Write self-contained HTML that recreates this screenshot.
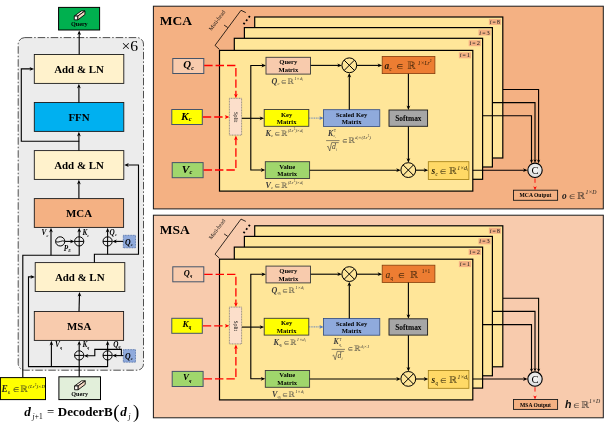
<!DOCTYPE html><html><head><meta charset="utf-8"><title>DecoderB</title>
<style>html,body{margin:0;padding:0;background:#fff;overflow:hidden}svg{display:block}svg text{font-family:"Liberation Serif","DejaVu Serif",serif}</style></head><body>
<svg width="604" height="426" viewBox="0 0 604 426">
<defs><filter id="soft" x="0" y="0" width="604" height="426" filterUnits="userSpaceOnUse"><feGaussianBlur stdDeviation="0.32"/></filter><radialGradient id="cg" cx="50%" cy="45%" r="60%"><stop offset="0" stop-color="#f7f7f7"/><stop offset="1" stop-color="#d9d9d9"/></radialGradient></defs>
<rect width="604" height="426" fill="#fff"/>
<g filter="url(#soft)">
<rect x="18.2" y="37.6" width="125.3" height="332.6" rx="6.5" ry="6.5" fill="#ececec" stroke="#262626" stroke-width="0.8" stroke-dasharray="7.5 2 1.5 2"/>
<text x="129.70" y="51.20" font-size="15.6" font-weight="normal" font-style="normal" text-anchor="middle" fill="#000" >×6</text>
<rect x="58.60" y="7.40" width="41.00" height="22.60" fill="#00b050" stroke="#000" stroke-width="1.0" />
<g transform="translate(79.60,15.30) scale(0.95)" stroke="#000" stroke-width="0.9" stroke-linejoin="round"><polygon points="-5.6,0.8 1.8,-4.6 5.6,-4.6 -1.8,0.8" fill="#fbeadc"/><polygon points="-5.6,0.8 -1.8,0.8 -1.8,4.8 -5.6,4.8" fill="#fffaf6"/><polygon points="-1.8,0.8 5.6,-4.6 5.6,-0.8 -1.8,4.8" fill="#f4d6c2"/></g>
<text x="79.30" y="26.30" font-size="6.2" font-weight="bold" font-style="normal" text-anchor="middle" fill="#000" >Query</text>
<rect x="34.30" y="54.50" width="89.50" height="28.90" fill="#fff2cc" stroke="#1a1a1a" stroke-width="0.9" />
<text x="79.00" y="73.00" font-size="10.9" font-weight="bold" font-style="normal" text-anchor="middle" fill="#000" >Add &amp; LN</text>
<rect x="34.30" y="102.50" width="89.50" height="28.90" fill="#00b0f0" stroke="#1a1a1a" stroke-width="0.9" />
<text x="79.00" y="121.00" font-size="10.9" font-weight="bold" font-style="normal" text-anchor="middle" fill="#000" >FFN</text>
<rect x="34.30" y="150.60" width="89.50" height="28.80" fill="#fff2cc" stroke="#1a1a1a" stroke-width="0.9" />
<text x="79.00" y="169.00" font-size="10.9" font-weight="bold" font-style="normal" text-anchor="middle" fill="#000" >Add &amp; LN</text>
<rect x="34.30" y="198.60" width="89.30" height="28.80" fill="#f4b183" stroke="#1a1a1a" stroke-width="0.9" />
<text x="79.00" y="217.00" font-size="10.9" font-weight="bold" font-style="normal" text-anchor="middle" fill="#000" >MCA</text>
<rect x="35.20" y="262.60" width="89.60" height="28.90" fill="#fff2cc" stroke="#1a1a1a" stroke-width="0.9" />
<text x="79.70" y="281.00" font-size="10.9" font-weight="bold" font-style="normal" text-anchor="middle" fill="#000" >Add &amp; LN</text>
<rect x="34.30" y="311.50" width="89.30" height="28.90" fill="#f8cbad" stroke="#1a1a1a" stroke-width="0.9" />
<text x="79.20" y="330.00" font-size="10.9" font-weight="bold" font-style="normal" text-anchor="middle" fill="#000" >MSA</text>
<path d="M79.20 54.50 L79.20 32.40" fill="none" stroke="#000" stroke-width="1.12" />
<polygon points="79.20,30.40 77.30,35.00 79.20,33.71 81.10,35.00" fill="#000"/>
<path d="M78.90 102.50 L78.90 85.80" fill="none" stroke="#000" stroke-width="1.12" />
<polygon points="78.90,83.80 77.00,88.40 78.90,87.11 80.80,88.40" fill="#000"/>
<path d="M78.90 150.60 L78.90 133.80" fill="none" stroke="#000" stroke-width="1.12" />
<polygon points="78.90,131.80 77.00,136.40 78.90,135.11 80.80,136.40" fill="#000"/>
<path d="M78.90 198.60 L78.90 181.80" fill="none" stroke="#000" stroke-width="1.12" />
<polygon points="78.90,179.80 77.00,184.40 78.90,183.11 80.80,184.40" fill="#000"/>
<path d="M79.00 311.50 L79.50 293.90" fill="none" stroke="#000" stroke-width="1.12" />
<polygon points="79.50,291.90 77.60,296.50 79.50,295.21 81.40,296.50" fill="#000"/>
<path d="M79.20 141.30 L21.30 141.30 L21.30 68.90 L32.10 68.90" fill="none" stroke="#000" stroke-width="1.12" />
<polygon points="34.10,68.90 29.50,67.00 30.79,68.90 29.50,70.80" fill="#000"/>
<path d="M94.40 262.60 L94.40 254.30 L138.50 254.30 L138.50 165.00 L126.20 165.00" fill="none" stroke="#000" stroke-width="1.12" />
<polygon points="124.20,165.00 128.80,163.10 127.51,165.00 128.80,166.90" fill="#000"/>
<path d="M107.60 254.30 L107.60 246.00" fill="none" stroke="#000" stroke-width="1.12" />
<circle cx="107.60" cy="241.40" r="4.6" fill="none" stroke="#000" stroke-width="1.0"/>
<path d="M103.00 241.40 L112.20 241.40" fill="none" stroke="#000" stroke-width="1.0" />
<path d="M107.60 236.80 L107.60 246.00" fill="none" stroke="#000" stroke-width="1.0" />
<path d="M107.60 236.80 L107.60 229.80" fill="none" stroke="#000" stroke-width="1.12" />
<polygon points="107.60,227.80 105.70,232.40 107.60,231.11 109.50,232.40" fill="#000"/>
<rect x="123.30" y="235.30" width="12.20" height="12.50" fill="#8faadc" stroke="#2f5597" stroke-width="0.7" stroke-dasharray="0.9 0.7"/>
<path d="M123.30 241.40 L114.20 241.40" fill="none" stroke="#000" stroke-width="1.12" />
<polygon points="112.20,241.40 116.80,239.50 115.51,241.40 116.80,243.30" fill="#000"/>
<path d="M22.80 377.50 L22.80 255.20 L79.20 255.20 L79.20 246.00" fill="none" stroke="#000" stroke-width="1.12" />
<path d="M51.00 255.20 L51.00 229.80" fill="none" stroke="#000" stroke-width="1.12" />
<polygon points="51.00,227.80 49.10,232.40 51.00,231.11 52.90,232.40" fill="#000"/>
<circle cx="79.20" cy="241.40" r="4.6" fill="none" stroke="#000" stroke-width="1.0"/>
<path d="M74.60 241.40 L83.80 241.40" fill="none" stroke="#000" stroke-width="1.0" />
<path d="M79.20 236.80 L79.20 246.00" fill="none" stroke="#000" stroke-width="1.0" />
<path d="M79.20 236.80 L79.20 229.80" fill="none" stroke="#000" stroke-width="1.12" />
<polygon points="79.20,227.80 77.30,232.40 79.20,231.11 81.10,232.40" fill="#000"/>
<circle cx="60.2" cy="241.4" r="4.6" fill="none" stroke="#000" stroke-width="1"/>
<path d="M55.7 241.7 Q58 242.5 60.2 241.5 T64.7 241.2" fill="none" stroke="#000" stroke-width="0.9"/>
<path d="M64.80 241.40 L72.60 241.40" fill="none" stroke="#000" stroke-width="1.12" />
<polygon points="74.60,241.40 70.00,239.50 71.29,241.40 70.00,243.30" fill="#000"/>
<path d="M79.20 377.00 L79.20 360.00" fill="none" stroke="#000" stroke-width="1.12" />
<path d="M107.60 366.60 L28.50 366.60 L28.50 276.90 L33.00 276.90" fill="none" stroke="#000" stroke-width="1.12" />
<polygon points="35.00,276.90 30.40,275.00 31.69,276.90 30.40,278.80" fill="#000"/>
<path d="M51.40 366.60 L51.40 342.80" fill="none" stroke="#000" stroke-width="1.12" />
<polygon points="51.40,340.80 49.50,345.40 51.40,344.11 53.30,345.40" fill="#000"/>
<circle cx="79.20" cy="355.40" r="4.6" fill="none" stroke="#000" stroke-width="1.0"/>
<path d="M74.60 355.40 L83.80 355.40" fill="none" stroke="#000" stroke-width="1.0" />
<path d="M79.20 350.80 L79.20 360.00" fill="none" stroke="#000" stroke-width="1.0" />
<path d="M79.20 350.80 L79.20 342.80" fill="none" stroke="#000" stroke-width="1.12" />
<polygon points="79.20,340.80 77.30,345.40 79.20,344.11 81.10,345.40" fill="#000"/>
<path d="M107.60 367.10 L107.60 360.00" fill="none" stroke="#000" stroke-width="1.12" />
<circle cx="107.60" cy="355.40" r="4.6" fill="none" stroke="#000" stroke-width="1.0"/>
<path d="M103.00 355.40 L112.20 355.40" fill="none" stroke="#000" stroke-width="1.0" />
<path d="M107.60 350.80 L107.60 360.00" fill="none" stroke="#000" stroke-width="1.0" />
<path d="M107.60 350.80 L107.60 342.80" fill="none" stroke="#000" stroke-width="1.12" />
<polygon points="107.60,340.80 105.70,345.40 107.60,344.11 109.50,345.40" fill="#000"/>
<rect x="123.30" y="349.60" width="12.20" height="12.60" fill="#8faadc" stroke="#2f5597" stroke-width="0.7" stroke-dasharray="0.9 0.7"/>
<path d="M123.30 355.60 L114.20 355.60" fill="none" stroke="#000" stroke-width="1.12" />
<polygon points="112.20,355.60 116.80,353.70 115.51,355.60 116.80,357.50" fill="#000"/>
<path d="M121.40 355.60 L121.40 349.40 L94.80 349.40 L94.80 355.80 L85.80 355.80" fill="none" stroke="#000" stroke-width="1.12" />
<polygon points="83.80,355.80 88.40,353.90 87.11,355.80 88.40,357.70" fill="#000"/>
<rect x="0.40" y="377.60" width="45.10" height="22.00" fill="#ffff00" stroke="#000" stroke-width="1.0" />
<text x="1.40" y="392.20" fill="#222" text-anchor="start"><tspan font-size="9.4" font-style="italic" font-weight="bold" dx="0" dy="0.00">E</tspan><tspan font-size="5.0"  dx="0.1" dy="1.90">6</tspan><tspan font-size="8.0" fill-opacity="0.8" font-family="'DejaVu Math TeX Gyre','DejaVu Serif',serif" dx="2.4" dy="-1.90">∈</tspan><tspan font-size="8.8" fill-opacity="0.8" font-family="'DejaVu Math TeX Gyre','DejaVu Serif',serif" dx="0.8" dy="0.00">ℝ</tspan><tspan font-size="5.0" font-style="italic" dx="0.0" dy="-4.00">(Lr</tspan><tspan font-size="3.4"  dx="0" dy="-2.00">2</tspan><tspan font-size="5.0" font-style="italic" dx="0" dy="2.00">)×D</tspan></text>
<rect x="58.90" y="376.80" width="41.60" height="22.80" fill="#e2efda" stroke="#000" stroke-width="1.0" />
<g transform="translate(79.90,385.20) scale(0.95)" stroke="#000" stroke-width="0.9" stroke-linejoin="round"><polygon points="-5.6,0.8 1.8,-4.6 5.6,-4.6 -1.8,0.8" fill="#fbeadc"/><polygon points="-5.6,0.8 -1.8,0.8 -1.8,4.8 -5.6,4.8" fill="#fffaf6"/><polygon points="-1.8,0.8 5.6,-4.6 5.6,-0.8 -1.8,4.8" fill="#f4d6c2"/></g>
<text x="79.60" y="396.40" font-size="6.2" font-weight="bold" font-style="normal" text-anchor="middle" fill="#000" >Query</text>
<text x="41.60" y="235.20" fill="#000" text-anchor="start"><tspan font-size="7.2" font-style="italic" font-weight="bold" dx="0" dy="0.00">V</tspan><tspan font-size="4.032000000000001" font-style="italic" font-weight="bold" dx="0.1" dy="1.60">c</tspan></text>
<text x="82.40" y="235.20" fill="#000" text-anchor="start"><tspan font-size="7.2" font-style="italic" font-weight="bold" dx="0" dy="0.00">K</tspan><tspan font-size="4.032000000000001" font-style="italic" font-weight="bold" dx="0.1" dy="1.60">c</tspan></text>
<text x="109.60" y="234.60" fill="#000" text-anchor="start"><tspan font-size="7.2" font-style="italic" font-weight="bold" dx="0" dy="0.00">Q</tspan><tspan font-size="4.032000000000001" font-style="italic" font-weight="bold" dx="0.1" dy="1.60">c</tspan></text>
<text x="63.80" y="250.60" fill="#000" text-anchor="start"><tspan font-size="7.2" font-style="italic" font-weight="bold" dx="0" dy="0.00">P</tspan><tspan font-size="4.032000000000001" font-style="italic" font-weight="bold" dx="0.1" dy="1.60">E</tspan></text>
<text x="55.00" y="347.40" fill="#000" text-anchor="start"><tspan font-size="7.2" font-style="italic" font-weight="bold" dx="0" dy="0.00">V</tspan><tspan font-size="4.032000000000001" font-style="italic" font-weight="bold" dx="0.1" dy="1.60">q</tspan></text>
<text x="82.40" y="347.40" fill="#000" text-anchor="start"><tspan font-size="7.2" font-style="italic" font-weight="bold" dx="0" dy="0.00">K</tspan><tspan font-size="4.032000000000001" font-style="italic" font-weight="bold" dx="0.1" dy="1.60">q</tspan></text>
<text x="113.20" y="346.60" fill="#000" text-anchor="start"><tspan font-size="7.2" font-style="italic" font-weight="bold" dx="0" dy="0.00">Q</tspan><tspan font-size="4.032000000000001" font-style="italic" font-weight="bold" dx="0.1" dy="1.60">q</tspan></text>
<text x="125.00" y="244.60" fill="#000" text-anchor="start"><tspan font-size="7.8" font-style="italic" font-weight="bold" dx="0" dy="0.00">Q</tspan><tspan font-size="4.368" font-style="italic" font-weight="bold" dx="0.1" dy="1.60">c</tspan></text>
<text x="125.00" y="358.80" fill="#000" text-anchor="start"><tspan font-size="7.8" font-style="italic" font-weight="bold" dx="0" dy="0.00">Q</tspan><tspan font-size="4.368" font-style="italic" font-weight="bold" dx="0.1" dy="1.60">c</tspan></text>
<text x="24.20" y="415.60" fill="#000" text-anchor="start"><tspan font-size="13.2" font-style="italic" font-weight="bold" dx="0" dy="0.00">d</tspan><tspan font-size="7.4" font-style="italic" dx="1.6" dy="3.60">j</tspan><tspan font-size="7.4"  dx="0.3" dy="0.00">+1</tspan><tspan font-size="12.8"  dx="4.4" dy="-3.60">=</tspan><tspan font-size="13.0" font-weight="bold" dx="3.6" dy="0.00">DecoderB</tspan><tspan font-size="19"  dx="0.6" dy="2.00">(</tspan><tspan font-size="13.2" font-style="italic" font-weight="bold" dx="0.6" dy="-2.00">d</tspan><tspan font-size="7.4" font-style="italic" dx="1.6" dy="3.60">j</tspan><tspan font-size="19"  dx="2.4" dy="-1.60">)</tspan></text>
<rect x="153.40" y="6.20" width="449.90" height="202.70" fill="#f4b183" stroke="#1a1a1a" stroke-width="1.0" />
<text x="159.80" y="25.00" font-size="13.5" font-weight="bold" font-style="normal" text-anchor="start" fill="#000" >MCA</text>
<rect x="254.70" y="17.00" width="248.10" height="141.00" fill="#ffe699" stroke="#000" stroke-width="1.2" />
<rect x="488.90" y="18.90" width="12.1" height="6.0" fill="#f4b183"/>
<text x="494.90" y="24.00" fill="#222" text-anchor="middle"><tspan font-size="6.4" font-style="italic" dx="0" dy="0.00">i</tspan><tspan font-size="5.8"  dx="1.0" dy="0.00">=</tspan><tspan font-size="6.4"  dx="1.0" dy="0.00">8</tspan></text>
<rect x="244.40" y="27.60" width="248.00" height="139.40" fill="#ffe699" stroke="#000" stroke-width="1.2" />
<rect x="478.50" y="29.50" width="12.1" height="6.0" fill="#f4b183"/>
<text x="484.50" y="34.60" fill="#222" text-anchor="middle"><tspan font-size="6.4" font-style="italic" dx="0" dy="0.00">i</tspan><tspan font-size="5.8"  dx="1.0" dy="0.00">=</tspan><tspan font-size="6.4"  dx="1.0" dy="0.00">3</tspan></text>
<rect x="234.30" y="38.30" width="248.30" height="141.00" fill="#ffe699" stroke="#000" stroke-width="1.2" />
<rect x="468.70" y="40.20" width="12.1" height="6.0" fill="#f4b183"/>
<text x="474.70" y="45.30" fill="#222" text-anchor="middle"><tspan font-size="6.4" font-style="italic" dx="0" dy="0.00">i</tspan><tspan font-size="5.8"  dx="1.0" dy="0.00">=</tspan><tspan font-size="6.4"  dx="1.0" dy="0.00">2</tspan></text>
<rect x="219.50" y="50.40" width="253.30" height="140.70" fill="#ffe699" stroke="#000" stroke-width="1.2" />
<rect x="458.90" y="52.30" width="12.1" height="6.0" fill="#f4b183"/>
<text x="464.90" y="57.40" fill="#222" text-anchor="middle"><tspan font-size="6.4" font-style="italic" dx="0" dy="0.00">i</tspan><tspan font-size="5.8"  dx="1.0" dy="0.00">=</tspan><tspan font-size="6.4"  dx="1.0" dy="0.00">1</tspan></text>
<path d="M219.40 49.40 L215.00 45.40 L241.00 10.30 L245.80 12.60" fill="none" stroke="#000" stroke-width="0.8" />
<path d="M227.70 27.50 L224.10 25.10" fill="none" stroke="#000" stroke-width="0.8" />
<text transform="translate(211.6,30.90) rotate(-53.5)" font-size="5.7" fill="#111">Muti-head</text>
<rect x="243.2" y="22.70" width="1.8" height="1.8" fill="#000" transform="rotate(35 244.1 23.60)"/>
<rect x="245.79999999999998" y="19.30" width="1.8" height="1.8" fill="#000" transform="rotate(35 246.7 20.20)"/>
<rect x="248.4" y="15.90" width="1.8" height="1.8" fill="#000" transform="rotate(35 249.3 16.80)"/>
<rect x="172.80" y="58.50" width="31.00" height="15.00" fill="#f8cbad" stroke="#44546a" stroke-width="1.0" />
<rect x="171.80" y="109.50" width="30.50" height="15.00" fill="#ffff00" stroke="#44546a" stroke-width="1.0" />
<rect x="172.20" y="162.60" width="30.90" height="15.10" fill="#a0d66c" stroke="#44546a" stroke-width="1.0" />
<text x="188.60" y="68.00" fill="#000" text-anchor="middle"><tspan font-size="10.8" font-style="italic" font-weight="bold" dx="0" dy="0.00">Q</tspan><tspan font-size="6.048000000000001" font-style="italic" font-weight="bold" dx="0.1" dy="1.70">c</tspan></text>
<text x="186.20" y="119.50" fill="#000" text-anchor="middle"><tspan font-size="11.4" font-style="italic" font-weight="bold" dx="0" dy="0.00">K</tspan><tspan font-size="6.384000000000001" font-style="italic" font-weight="bold" dx="0.1" dy="1.70">c</tspan></text>
<text x="187.00" y="172.50" fill="#000" text-anchor="middle"><tspan font-size="11.4" font-style="italic" font-weight="bold" dx="0" dy="0.00">V</tspan><tspan font-size="6.384000000000001" font-style="italic" font-weight="bold" dx="0.1" dy="1.70">c</tspan></text>
<path d="M204.20 65.50 L235.90 65.50 L235.90 96.30" fill="none" stroke="#ff0000" stroke-width="1.3" stroke-dasharray="8.4 3"/>
<polygon points="235.90,98.30 234.00,93.70 235.90,94.99 237.80,93.70" fill="#ff0000"/>
<path d="M202.80 117.00 L227.40 117.00" fill="none" stroke="#ff0000" stroke-width="1.3" stroke-dasharray="8.4 3"/>
<polygon points="229.40,117.00 224.80,115.10 226.09,117.00 224.80,118.90" fill="#ff0000"/>
<path d="M203.60 170.00 L235.90 170.00 L235.90 137.60" fill="none" stroke="#ff0000" stroke-width="1.3" stroke-dasharray="8.4 3"/>
<polygon points="235.90,135.60 234.00,140.20 235.90,138.91 237.80,140.20" fill="#ff0000"/>
<rect x="229.40" y="98.30" width="12.20" height="36.80" fill="#fcdfcb" stroke="#6a6a6a" stroke-width="0.7" stroke-dasharray="1 0.6"/>
 <text transform="translate(233.9,117.00) rotate(90)" font-size="5.6" text-anchor="middle" font-weight="normal" fill="#111">Split</text>
<path d="M242.00 118.30 L262.20 118.30" fill="none" stroke="#000" stroke-width="1.12" />
<polygon points="264.20,118.30 259.60,116.40 260.89,118.30 259.60,120.20" fill="#000"/>
<path d="M250.80 118.30 L250.80 65.50 L264.00 65.50" fill="none" stroke="#000" stroke-width="1.12" />
<polygon points="266.00,65.50 261.40,63.60 262.69,65.50 261.40,67.40" fill="#000"/>
<path d="M250.80 118.30 L250.80 170.00 L263.30 170.00" fill="none" stroke="#000" stroke-width="1.12" />
<polygon points="265.30,170.00 260.70,168.10 261.99,170.00 260.70,171.90" fill="#000"/>
<rect x="266.00" y="57.30" width="44.50" height="16.80" fill="#f8cbad" stroke="#3a3a3a" stroke-width="0.9" />
<rect x="264.20" y="109.50" width="44.60" height="16.80" fill="#ffff00" stroke="#3a3a3a" stroke-width="0.9" />
<rect x="265.30" y="161.70" width="44.30" height="16.80" fill="#a0d66c" stroke="#3a3a3a" stroke-width="0.9" />
<text x="288.30" y="64.20" font-size="6.6" font-weight="bold" font-style="normal" text-anchor="middle" fill="#000" >Query</text>
<text x="288.30" y="71.70" font-size="6.6" font-weight="bold" font-style="normal" text-anchor="middle" fill="#000" >Matrix</text>
<text x="286.60" y="116.50" font-size="6.6" font-weight="bold" font-style="normal" text-anchor="middle" fill="#000" >Key</text>
<text x="286.60" y="124.00" font-size="6.6" font-weight="bold" font-style="normal" text-anchor="middle" fill="#000" >Matrix</text>
<text x="287.20" y="168.60" font-size="6.6" font-weight="bold" font-style="normal" text-anchor="middle" fill="#000" >Value</text>
<text x="287.20" y="176.10" font-size="6.6" font-weight="bold" font-style="normal" text-anchor="middle" fill="#000" >Matrix</text>
<text x="271.60" y="83.80" fill="#3c3c3c" text-anchor="start"><tspan font-size="8" font-style="italic" font-weight="bold" dx="0" dy="0.00">Q</tspan><tspan font-size="4.4" font-style="italic" dx="0.1" dy="1.60">c</tspan><tspan font-size="6.8" fill-opacity="0.8" font-family="'DejaVu Math TeX Gyre','DejaVu Serif',serif" dx="1.6" dy="-1.60">∈</tspan><tspan font-size="7.4" fill-opacity="0.8" font-family="'DejaVu Math TeX Gyre','DejaVu Serif',serif" dx="0.9" dy="0.00">ℝ</tspan><tspan font-size="4.7" font-style="italic" dx="-0.3" dy="-3.60">1×d</tspan><tspan font-size="3.1" font-style="italic" dx="0" dy="0.80">i</tspan></text>
<text x="265.60" y="135.70" fill="#3c3c3c" text-anchor="start"><tspan font-size="8" font-style="italic" font-weight="bold" dx="0" dy="0.00">K</tspan><tspan font-size="4.4" font-style="italic" dx="0.1" dy="1.60">c</tspan><tspan font-size="6.8" fill-opacity="0.8" font-family="'DejaVu Math TeX Gyre','DejaVu Serif',serif" dx="1.6" dy="-1.60">∈</tspan><tspan font-size="7.4" fill-opacity="0.8" font-family="'DejaVu Math TeX Gyre','DejaVu Serif',serif" dx="0.9" dy="0.00">ℝ</tspan><tspan font-size="4.7" font-style="italic" dx="-0.3" dy="-3.60">(Lr</tspan><tspan font-size="3.1"  dx="0" dy="-1.80">2</tspan><tspan font-size="4.7" font-style="italic" dx="0" dy="1.80">)×d</tspan><tspan font-size="3.1" font-style="italic" dx="0" dy="0.80">i</tspan></text>
<text x="265.60" y="187.70" fill="#3c3c3c" text-anchor="start"><tspan font-size="8" font-style="italic" font-weight="bold" dx="0" dy="0.00">V</tspan><tspan font-size="4.4" font-style="italic" dx="0.1" dy="1.60">c</tspan><tspan font-size="6.8" fill-opacity="0.8" font-family="'DejaVu Math TeX Gyre','DejaVu Serif',serif" dx="1.6" dy="-1.60">∈</tspan><tspan font-size="7.4" fill-opacity="0.8" font-family="'DejaVu Math TeX Gyre','DejaVu Serif',serif" dx="0.9" dy="0.00">ℝ</tspan><tspan font-size="4.7" font-style="italic" dx="-0.3" dy="-3.60">(Lr</tspan><tspan font-size="3.1"  dx="0" dy="-1.80">2</tspan><tspan font-size="4.7" font-style="italic" dx="0" dy="1.80">)×d</tspan><tspan font-size="3.1" font-style="italic" dx="0" dy="0.80">i</tspan></text>
<path d="M309.00 118.10 L321.00 118.10" fill="none" stroke="#4472c4" stroke-width="0.9" stroke-dasharray="1 0.7"/>
<polygon points="323.40,118.10 319.40,116.30 320.52,118.10 319.40,119.90" fill="#4472c4"/>
<rect x="323.40" y="109.70" width="56.40" height="16.70" fill="#8faadc" stroke="#2f4a80" stroke-width="0.8" />
<text x="351.60" y="116.70" font-size="6.6" font-weight="bold" font-style="normal" text-anchor="middle" fill="#000" >Scaled Key</text>
<text x="351.60" y="124.30" font-size="6.6" font-weight="bold" font-style="normal" text-anchor="middle" fill="#000" >Matrix</text>
<text x="328.10" y="135.60" fill="#3c3c3c" text-anchor="start"><tspan font-size="7.6" font-style="italic" font-weight="bold" dx="0" dy="0.00">K</tspan><tspan font-size="3.8"  dx="0.6" dy="-3.60">T</tspan><tspan font-size="3.4" font-style="italic" dx="-2.6" dy="5.40">c</tspan><tspan font-size="2.6" font-style="italic" dx="0" dy="0.80">i</tspan></text>
<path d="M326.10 140.60 L339.50 140.60" fill="none" stroke="#3c3c3c" stroke-width="0.6" />
<text x="332.10" y="149.30" fill="#3c3c3c" text-anchor="start"><tspan font-size="7.6" font-style="italic" dx="0" dy="0.00">d</tspan><tspan font-size="3.6" font-style="italic" dx="0.1" dy="1.40">i</tspan></text>
<path d="M327.00 147.00 L328.10 146.20 L329.70 151.00 L331.70 142.60 L338.70 142.60" fill="none" stroke="#3c3c3c" stroke-width="0.6" />
<text x="341.90" y="142.50" fill="#3c3c3c" text-anchor="start"><tspan font-size="6.6" fill-opacity="0.8" font-family="'DejaVu Math TeX Gyre','DejaVu Serif',serif" dx="0" dy="0.00">∈</tspan><tspan font-size="7.6" fill-opacity="0.8" font-family="'DejaVu Math TeX Gyre','DejaVu Serif',serif" dx="0.8" dy="0.00">ℝ</tspan><tspan font-size="4.8" font-style="italic" dx="-0.2" dy="-3.60">d</tspan><tspan font-size="3.0" font-style="italic" dx="0" dy="0.80">i</tspan><tspan font-size="4.8" font-style="italic" dx="0" dy="-0.80">×(Lr</tspan><tspan font-size="3.0"  dx="0" dy="-1.80">2</tspan><tspan font-size="4.8" font-style="italic" dx="0" dy="1.80">)</tspan></text>
<path d="M310.70 65.40 L339.90 65.40" fill="none" stroke="#000" stroke-width="1.12" />
<polygon points="341.90,65.40 337.30,63.50 338.59,65.40 337.30,67.30" fill="#000"/>
<circle cx="349.30" cy="65.30" r="7.4" fill="none" stroke="#000" stroke-width="1.0"/>
<path d="M344.07 60.07 L354.53 70.53" fill="none" stroke="#000" stroke-width="1.0" />
<path d="M344.07 70.53 L354.53 60.07" fill="none" stroke="#000" stroke-width="1.0" />
<path d="M349.30 109.70 L349.30 74.90" fill="none" stroke="#000" stroke-width="1.12" />
<polygon points="349.30,72.90 347.40,77.50 349.30,76.21 351.20,77.50" fill="#000"/>
<path d="M356.80 65.40 L380.20 65.40" fill="none" stroke="#000" stroke-width="1.12" />
<polygon points="382.20,65.40 377.60,63.50 378.89,65.40 377.60,67.30" fill="#000"/>
<rect x="382.20" y="56.40" width="52.70" height="17.20" fill="#ed7d31" stroke="#843c0c" stroke-width="0.8" />
<text x="384.40" y="68.90" fill="#2a1a08" text-anchor="start"><tspan font-size="9.4" font-style="italic" font-weight="bold" dx="0" dy="0.00">a</tspan><tspan font-size="5.2" font-style="italic" dx="0.4" dy="1.90">c</tspan><tspan font-size="8.6" fill-opacity="0.8" font-family="'DejaVu Math TeX Gyre','DejaVu Serif',serif" dx="4.6" dy="-1.90">∈</tspan><tspan font-size="10.0" fill-opacity="0.8" font-family="'DejaVu Math TeX Gyre','DejaVu Serif',serif" dx="3.4" dy="0.00">ℝ</tspan><tspan font-size="5.6" font-style="italic" dx="1.6" dy="-4.40">1×Lr</tspan><tspan font-size="3.6"  dx="0" dy="-2.20">2</tspan></text>
<path d="M408.40 73.80 L408.40 108.00" fill="none" stroke="#000" stroke-width="1.12" />
<polygon points="408.40,110.00 406.50,105.40 408.40,106.69 410.30,105.40" fill="#000"/>
<rect x="389.00" y="110.00" width="38.60" height="16.30" fill="#a6a6a6" stroke="#1a1a1a" stroke-width="0.9" />
<text x="408.40" y="120.70" font-size="7.4" font-weight="bold" font-style="normal" text-anchor="middle" fill="#000" >Softmax</text>
<path d="M408.40 126.50 L408.40 160.70" fill="none" stroke="#000" stroke-width="1.12" />
<polygon points="408.40,162.70 406.50,158.10 408.40,159.39 410.30,158.10" fill="#000"/>
<circle cx="408.30" cy="170.10" r="7.4" fill="none" stroke="#000" stroke-width="1.0"/>
<path d="M403.07 164.87 L413.53 175.33" fill="none" stroke="#000" stroke-width="1.0" />
<path d="M403.07 175.33 L413.53 164.87" fill="none" stroke="#000" stroke-width="1.0" />
<path d="M309.70 170.20 L398.80 170.20" fill="none" stroke="#000" stroke-width="1.12" />
<polygon points="400.80,170.20 396.20,168.30 397.49,170.20 396.20,172.10" fill="#000"/>
<path d="M415.80 170.20 L426.30 170.20" fill="none" stroke="#000" stroke-width="1.12" />
<polygon points="428.30,170.20 423.70,168.30 424.99,170.20 423.70,172.10" fill="#000"/>
<rect x="428.30" y="161.70" width="40.60" height="17.80" fill="#ffd966" stroke="#a07c10" stroke-width="0.8" />
<text x="431.40" y="174.40" fill="#2a2208" text-anchor="start"><tspan font-size="9.6" font-style="italic" font-weight="bold" dx="0" dy="0.00">s</tspan><tspan font-size="5.2" font-style="italic" dx="0.3" dy="1.90">c</tspan><tspan font-size="8.2" fill-opacity="0.8" font-family="'DejaVu Math TeX Gyre','DejaVu Serif',serif" dx="2.0" dy="-1.90">∈</tspan><tspan font-size="9.4" fill-opacity="0.8" font-family="'DejaVu Math TeX Gyre','DejaVu Serif',serif" dx="1.8" dy="0.00">ℝ</tspan><tspan font-size="5.8" font-style="italic" dx="0.2" dy="-4.40">1×d</tspan><tspan font-size="3.6" font-style="italic" dx="0" dy="1.20">i</tspan></text>
<path d="M472.80 170.20 L525.60 170.20" fill="none" stroke="#000" stroke-width="1.12" />
<polygon points="527.60,170.20 523.00,168.30 524.29,170.20 523.00,172.10" fill="#000"/>
<path d="M482.80 115.80 L531.50 115.80 L531.50 161.40" fill="none" stroke="#000" stroke-width="1.12" />
<polygon points="531.50,163.40 529.90,159.60 531.50,160.66 533.10,159.60" fill="#000"/>
<path d="M492.60 102.60 L535.00 102.60 L535.00 161.00" fill="none" stroke="#000" stroke-width="1.12" />
<polygon points="535.00,163.00 533.40,159.20 535.00,160.26 536.60,159.20" fill="#000"/>
<path d="M503.00 89.50 L538.60 89.50 L538.60 161.40" fill="none" stroke="#000" stroke-width="1.12" />
<polygon points="538.60,163.40 537.00,159.60 538.60,160.66 540.20,159.60" fill="#000"/>
<circle cx="535" cy="170.30" r="7.2" fill="url(#cg)" stroke="#000" stroke-width="1.1"/>
<text x="535.10" y="173.80" font-size="10.6" font-weight="normal" font-style="normal" text-anchor="middle" fill="#000" >C</text>
<path d="M535.00 178.40 L535.00 182.80" fill="none" stroke="#ff0000" stroke-width="0.9" />
<polygon points="535.00,190.20 533.30,186.20 535.00,187.32 536.70,186.20" fill="#ff0000"/>
<rect x="513.50" y="190.20" width="44.10" height="10.10" fill="#f4b183" stroke="#1a1a1a" stroke-width="0.9" />
<text x="535.50" y="197.40" font-size="5.6" font-weight="bold" font-style="normal" text-anchor="middle" fill="#000" >MCA Output</text>
<text x="562.00" y="198.80" fill="#1a1a1a" text-anchor="start"><tspan font-size="9.4" font-style="italic" font-weight="bold" dx="0" dy="0.00">o</tspan><tspan font-size="7.8" fill-opacity="0.8" font-family="'DejaVu Math TeX Gyre','DejaVu Serif',serif" dx="2.0" dy="0.00">∈</tspan><tspan font-size="9.4" fill-opacity="0.8" font-family="'DejaVu Math TeX Gyre','DejaVu Serif',serif" dx="1.6" dy="0.00">ℝ</tspan><tspan font-size="5.8" font-style="italic" dx="0.0" dy="-4.60">1×D</tspan></text>
<rect x="153.40" y="215.20" width="449.90" height="202.60" fill="#f8cbad" stroke="#1a1a1a" stroke-width="1.0" />
<text x="159.80" y="233.80" font-size="13.5" font-weight="bold" font-style="normal" text-anchor="start" fill="#000" >MSA</text>
<rect x="254.70" y="225.80" width="248.10" height="141.00" fill="#ffe699" stroke="#000" stroke-width="1.2" />
<rect x="488.90" y="227.70" width="12.1" height="6.0" fill="#f4b183"/>
<text x="494.90" y="232.80" fill="#222" text-anchor="middle"><tspan font-size="6.4" font-style="italic" dx="0" dy="0.00">i</tspan><tspan font-size="5.8"  dx="1.0" dy="0.00">=</tspan><tspan font-size="6.4"  dx="1.0" dy="0.00">8</tspan></text>
<rect x="244.40" y="236.40" width="248.00" height="139.40" fill="#ffe699" stroke="#000" stroke-width="1.2" />
<rect x="478.50" y="238.30" width="12.1" height="6.0" fill="#f4b183"/>
<text x="484.50" y="243.40" fill="#222" text-anchor="middle"><tspan font-size="6.4" font-style="italic" dx="0" dy="0.00">i</tspan><tspan font-size="5.8"  dx="1.0" dy="0.00">=</tspan><tspan font-size="6.4"  dx="1.0" dy="0.00">3</tspan></text>
<rect x="234.30" y="247.10" width="248.30" height="141.00" fill="#ffe699" stroke="#000" stroke-width="1.2" />
<rect x="468.70" y="249.00" width="12.1" height="6.0" fill="#f4b183"/>
<text x="474.70" y="254.10" fill="#222" text-anchor="middle"><tspan font-size="6.4" font-style="italic" dx="0" dy="0.00">i</tspan><tspan font-size="5.8"  dx="1.0" dy="0.00">=</tspan><tspan font-size="6.4"  dx="1.0" dy="0.00">2</tspan></text>
<rect x="219.50" y="259.20" width="253.30" height="140.70" fill="#ffe699" stroke="#000" stroke-width="1.2" />
<rect x="458.90" y="261.10" width="12.1" height="6.0" fill="#f4b183"/>
<text x="464.90" y="266.20" fill="#222" text-anchor="middle"><tspan font-size="6.4" font-style="italic" dx="0" dy="0.00">i</tspan><tspan font-size="5.8"  dx="1.0" dy="0.00">=</tspan><tspan font-size="6.4"  dx="1.0" dy="0.00">1</tspan></text>
<path d="M219.40 258.20 L215.00 254.20 L241.00 219.10 L245.80 221.40" fill="none" stroke="#000" stroke-width="0.8" />
<path d="M227.70 236.30 L224.10 233.90" fill="none" stroke="#000" stroke-width="0.8" />
<text transform="translate(211.6,239.70) rotate(-53.5)" font-size="5.7" fill="#111">Muti-head</text>
<rect x="243.2" y="231.50" width="1.8" height="1.8" fill="#000" transform="rotate(35 244.1 232.40)"/>
<rect x="245.79999999999998" y="228.10" width="1.8" height="1.8" fill="#000" transform="rotate(35 246.7 229.00)"/>
<rect x="248.4" y="224.70" width="1.8" height="1.8" fill="#000" transform="rotate(35 249.3 225.60)"/>
<rect x="172.80" y="266.80" width="31.00" height="15.00" fill="#f8cbad" stroke="#44546a" stroke-width="1.0" />
<rect x="171.80" y="318.30" width="30.50" height="15.00" fill="#ffff00" stroke="#44546a" stroke-width="1.0" />
<rect x="172.20" y="371.40" width="30.90" height="15.10" fill="#a0d66c" stroke="#44546a" stroke-width="1.0" />
<text x="188.00" y="275.60" fill="#000" text-anchor="middle"><tspan font-size="8.3" font-style="italic" font-weight="bold" dx="0" dy="0.00">Q</tspan><tspan font-size="4.648000000000001" font-style="italic" font-weight="bold" dx="0.1" dy="1.70">q</tspan></text>
<text x="186.80" y="327.20" fill="#000" text-anchor="middle"><tspan font-size="9.2" font-style="italic" font-weight="bold" dx="0" dy="0.00">K</tspan><tspan font-size="5.152" font-style="italic" font-weight="bold" dx="0.1" dy="1.70">q</tspan></text>
<text x="187.20" y="380.20" fill="#000" text-anchor="middle"><tspan font-size="8.8" font-style="italic" font-weight="bold" dx="0" dy="0.00">V</tspan><tspan font-size="4.928000000000001" font-style="italic" font-weight="bold" dx="0.1" dy="1.70">q</tspan></text>
<path d="M204.20 274.30 L235.90 274.30 L235.90 305.10" fill="none" stroke="#ff0000" stroke-width="1.3" stroke-dasharray="8.4 3"/>
<polygon points="235.90,307.10 234.00,302.50 235.90,303.79 237.80,302.50" fill="#ff0000"/>
<path d="M202.80 325.80 L227.40 325.80" fill="none" stroke="#ff0000" stroke-width="1.3" stroke-dasharray="8.4 3"/>
<polygon points="229.40,325.80 224.80,323.90 226.09,325.80 224.80,327.70" fill="#ff0000"/>
<path d="M203.60 378.80 L235.90 378.80 L235.90 346.40" fill="none" stroke="#ff0000" stroke-width="1.3" stroke-dasharray="8.4 3"/>
<polygon points="235.90,344.40 234.00,349.00 235.90,347.71 237.80,349.00" fill="#ff0000"/>
<rect x="229.40" y="307.10" width="12.20" height="36.80" fill="#fcdfcb" stroke="#6a6a6a" stroke-width="0.7" stroke-dasharray="1 0.6"/>
 <text transform="translate(233.9,325.80) rotate(90)" font-size="5.6" text-anchor="middle" font-weight="normal" fill="#111">Split</text>
<path d="M242.00 327.10 L262.20 327.10" fill="none" stroke="#000" stroke-width="1.12" />
<polygon points="264.20,327.10 259.60,325.20 260.89,327.10 259.60,329.00" fill="#000"/>
<path d="M250.80 327.10 L250.80 274.30 L264.00 274.30" fill="none" stroke="#000" stroke-width="1.12" />
<polygon points="266.00,274.30 261.40,272.40 262.69,274.30 261.40,276.20" fill="#000"/>
<path d="M250.80 327.10 L250.80 378.80 L263.30 378.80" fill="none" stroke="#000" stroke-width="1.12" />
<polygon points="265.30,378.80 260.70,376.90 261.99,378.80 260.70,380.70" fill="#000"/>
<rect x="266.00" y="266.10" width="44.50" height="16.80" fill="#f8cbad" stroke="#3a3a3a" stroke-width="0.9" />
<rect x="264.20" y="318.30" width="44.60" height="16.80" fill="#ffff00" stroke="#3a3a3a" stroke-width="0.9" />
<rect x="265.30" y="370.50" width="44.30" height="16.80" fill="#a0d66c" stroke="#3a3a3a" stroke-width="0.9" />
<text x="288.30" y="273.00" font-size="6.6" font-weight="bold" font-style="normal" text-anchor="middle" fill="#000" >Query</text>
<text x="288.30" y="280.50" font-size="6.6" font-weight="bold" font-style="normal" text-anchor="middle" fill="#000" >Matrix</text>
<text x="286.60" y="325.30" font-size="6.6" font-weight="bold" font-style="normal" text-anchor="middle" fill="#000" >Key</text>
<text x="286.60" y="332.80" font-size="6.6" font-weight="bold" font-style="normal" text-anchor="middle" fill="#000" >Matrix</text>
<text x="287.20" y="377.40" font-size="6.6" font-weight="bold" font-style="normal" text-anchor="middle" fill="#000" >Value</text>
<text x="287.20" y="384.90" font-size="6.6" font-weight="bold" font-style="normal" text-anchor="middle" fill="#000" >Matrix</text>
<text x="271.60" y="292.60" fill="#3c3c3c" text-anchor="start"><tspan font-size="8" font-style="italic" font-weight="bold" dx="0" dy="0.00">Q</tspan><tspan font-size="4.4" font-style="italic" dx="0.1" dy="1.60">q</tspan><tspan font-size="3.2" font-style="italic" dx="0" dy="1.00">i</tspan><tspan font-size="6.8" fill-opacity="0.8" font-family="'DejaVu Math TeX Gyre','DejaVu Serif',serif" dx="1.6" dy="-2.60">∈</tspan><tspan font-size="7.4" fill-opacity="0.8" font-family="'DejaVu Math TeX Gyre','DejaVu Serif',serif" dx="0.9" dy="0.00">ℝ</tspan><tspan font-size="4.7" font-style="italic" dx="-0.3" dy="-3.60">1×d</tspan><tspan font-size="3.1" font-style="italic" dx="0" dy="0.80">i</tspan></text>
<text x="273.60" y="344.60" fill="#3c3c3c" text-anchor="start"><tspan font-size="8" font-style="italic" font-weight="bold" dx="0" dy="0.00">K</tspan><tspan font-size="4.4" font-style="italic" dx="0.1" dy="1.60">q</tspan><tspan font-size="3.2" font-style="italic" dx="0" dy="1.00">i</tspan><tspan font-size="6.8" fill-opacity="0.8" font-family="'DejaVu Math TeX Gyre','DejaVu Serif',serif" dx="1.6" dy="-2.60">∈</tspan><tspan font-size="7.4" fill-opacity="0.8" font-family="'DejaVu Math TeX Gyre','DejaVu Serif',serif" dx="0.9" dy="0.00">ℝ</tspan><tspan font-size="4.7" font-style="italic" dx="-0.3" dy="-3.60">1×d</tspan><tspan font-size="3.1" font-style="italic" dx="0" dy="0.80">i</tspan></text>
<text x="272.00" y="396.60" fill="#3c3c3c" text-anchor="start"><tspan font-size="8" font-style="italic" font-weight="bold" dx="0" dy="0.00">V</tspan><tspan font-size="4.4" font-style="italic" dx="0.1" dy="1.60">q</tspan><tspan font-size="3.2" font-style="italic" dx="0" dy="1.00">i</tspan><tspan font-size="6.8" fill-opacity="0.8" font-family="'DejaVu Math TeX Gyre','DejaVu Serif',serif" dx="1.6" dy="-2.60">∈</tspan><tspan font-size="7.4" fill-opacity="0.8" font-family="'DejaVu Math TeX Gyre','DejaVu Serif',serif" dx="0.9" dy="0.00">ℝ</tspan><tspan font-size="4.7" font-style="italic" dx="-0.3" dy="-3.60">1×d</tspan><tspan font-size="3.1" font-style="italic" dx="0" dy="0.80">i</tspan></text>
<path d="M309.00 326.90 L321.00 326.90" fill="none" stroke="#4472c4" stroke-width="0.9" stroke-dasharray="1 0.7"/>
<polygon points="323.40,326.90 319.40,325.10 320.52,326.90 319.40,328.70" fill="#4472c4"/>
<rect x="323.40" y="318.50" width="56.40" height="16.70" fill="#8faadc" stroke="#2f4a80" stroke-width="0.8" />
<text x="351.60" y="325.50" font-size="6.6" font-weight="bold" font-style="normal" text-anchor="middle" fill="#000" >Scaled Key</text>
<text x="351.60" y="333.10" font-size="6.6" font-weight="bold" font-style="normal" text-anchor="middle" fill="#000" >Matrix</text>
<text x="333.60" y="344.40" fill="#3c3c3c" text-anchor="start"><tspan font-size="7.6" font-style="italic" font-weight="bold" dx="0" dy="0.00">K</tspan><tspan font-size="3.8"  dx="0.6" dy="-3.60">T</tspan><tspan font-size="3.4" font-style="italic" dx="-2.6" dy="5.40">q</tspan><tspan font-size="2.6" font-style="italic" dx="0" dy="0.80">i</tspan></text>
<path d="M331.60 349.40 L345.00 349.40" fill="none" stroke="#3c3c3c" stroke-width="0.6" />
<text x="337.60" y="358.10" fill="#3c3c3c" text-anchor="start"><tspan font-size="7.6" font-style="italic" dx="0" dy="0.00">d</tspan><tspan font-size="3.6" font-style="italic" dx="0.1" dy="1.40">i</tspan></text>
<path d="M332.50 355.80 L333.60 355.00 L335.20 359.80 L337.20 351.40 L344.20 351.40" fill="none" stroke="#3c3c3c" stroke-width="0.6" />
<text x="347.40" y="351.30" fill="#3c3c3c" text-anchor="start"><tspan font-size="6.6" fill-opacity="0.8" font-family="'DejaVu Math TeX Gyre','DejaVu Serif',serif" dx="0" dy="0.00">∈</tspan><tspan font-size="7.6" fill-opacity="0.8" font-family="'DejaVu Math TeX Gyre','DejaVu Serif',serif" dx="0.8" dy="0.00">ℝ</tspan><tspan font-size="4.8" font-style="italic" dx="-0.2" dy="-3.60">d</tspan><tspan font-size="3.0" font-style="italic" dx="0" dy="0.80">i</tspan><tspan font-size="4.8" font-style="italic" dx="0" dy="-0.80">×1</tspan></text>
<path d="M310.70 274.20 L339.90 274.20" fill="none" stroke="#000" stroke-width="1.12" />
<polygon points="341.90,274.20 337.30,272.30 338.59,274.20 337.30,276.10" fill="#000"/>
<circle cx="349.30" cy="274.10" r="7.4" fill="none" stroke="#000" stroke-width="1.0"/>
<path d="M344.07 268.87 L354.53 279.33" fill="none" stroke="#000" stroke-width="1.0" />
<path d="M344.07 279.33 L354.53 268.87" fill="none" stroke="#000" stroke-width="1.0" />
<path d="M349.30 318.50 L349.30 283.70" fill="none" stroke="#000" stroke-width="1.12" />
<polygon points="349.30,281.70 347.40,286.30 349.30,285.01 351.20,286.30" fill="#000"/>
<path d="M356.80 274.20 L380.20 274.20" fill="none" stroke="#000" stroke-width="1.12" />
<polygon points="382.20,274.20 377.60,272.30 378.89,274.20 377.60,276.10" fill="#000"/>
<rect x="382.20" y="265.20" width="52.70" height="17.20" fill="#ed7d31" stroke="#843c0c" stroke-width="0.8" />
<text x="385.40" y="277.70" fill="#2a1a08" text-anchor="start"><tspan font-size="9.4" font-style="italic" dx="0" dy="0.00">a</tspan><tspan font-size="5.2" font-style="italic" dx="0.4" dy="1.90">q</tspan><tspan font-size="8.4" fill-opacity="0.8" font-family="'DejaVu Math TeX Gyre','DejaVu Serif',serif" dx="5.0" dy="-1.90">∈</tspan><tspan font-size="9.6" fill-opacity="0.8" font-family="'DejaVu Math TeX Gyre','DejaVu Serif',serif" dx="4.6" dy="0.00">ℝ</tspan><tspan font-size="5.4"  dx="3.2" dy="-4.40">1×1</tspan></text>
<path d="M408.40 282.60 L408.40 316.80" fill="none" stroke="#000" stroke-width="1.12" />
<polygon points="408.40,318.80 406.50,314.20 408.40,315.49 410.30,314.20" fill="#000"/>
<rect x="389.00" y="318.80" width="38.60" height="16.30" fill="#a6a6a6" stroke="#1a1a1a" stroke-width="0.9" />
<text x="408.40" y="329.50" font-size="7.4" font-weight="bold" font-style="normal" text-anchor="middle" fill="#000" >Softmax</text>
<path d="M408.40 335.30 L408.40 369.50" fill="none" stroke="#000" stroke-width="1.12" />
<polygon points="408.40,371.50 406.50,366.90 408.40,368.19 410.30,366.90" fill="#000"/>
<circle cx="408.30" cy="378.90" r="7.4" fill="none" stroke="#000" stroke-width="1.0"/>
<path d="M403.07 373.67 L413.53 384.13" fill="none" stroke="#000" stroke-width="1.0" />
<path d="M403.07 384.13 L413.53 373.67" fill="none" stroke="#000" stroke-width="1.0" />
<path d="M309.70 379.00 L398.80 379.00" fill="none" stroke="#000" stroke-width="1.12" />
<polygon points="400.80,379.00 396.20,377.10 397.49,379.00 396.20,380.90" fill="#000"/>
<path d="M415.80 379.00 L426.30 379.00" fill="none" stroke="#000" stroke-width="1.12" />
<polygon points="428.30,379.00 423.70,377.10 424.99,379.00 423.70,380.90" fill="#000"/>
<rect x="428.30" y="370.50" width="40.60" height="17.80" fill="#ffd966" stroke="#a07c10" stroke-width="0.8" />
<text x="431.40" y="383.20" fill="#2a2208" text-anchor="start"><tspan font-size="9.6" font-style="italic" font-weight="bold" dx="0" dy="0.00">s</tspan><tspan font-size="5.2" font-style="italic" dx="0.3" dy="1.90">q</tspan><tspan font-size="8.2" fill-opacity="0.8" font-family="'DejaVu Math TeX Gyre','DejaVu Serif',serif" dx="2.0" dy="-1.90">∈</tspan><tspan font-size="9.4" fill-opacity="0.8" font-family="'DejaVu Math TeX Gyre','DejaVu Serif',serif" dx="1.8" dy="0.00">ℝ</tspan><tspan font-size="5.8" font-style="italic" dx="0.2" dy="-4.40">1×d</tspan><tspan font-size="3.6" font-style="italic" dx="0" dy="1.20">i</tspan></text>
<path d="M472.80 379.00 L525.60 379.00" fill="none" stroke="#000" stroke-width="1.12" />
<polygon points="527.60,379.00 523.00,377.10 524.29,379.00 523.00,380.90" fill="#000"/>
<path d="M482.80 324.60 L531.50 324.60 L531.50 370.20" fill="none" stroke="#000" stroke-width="1.12" />
<polygon points="531.50,372.20 529.90,368.40 531.50,369.46 533.10,368.40" fill="#000"/>
<path d="M492.60 311.40 L535.00 311.40 L535.00 369.80" fill="none" stroke="#000" stroke-width="1.12" />
<polygon points="535.00,371.80 533.40,368.00 535.00,369.06 536.60,368.00" fill="#000"/>
<path d="M503.00 298.30 L538.60 298.30 L538.60 370.20" fill="none" stroke="#000" stroke-width="1.12" />
<polygon points="538.60,372.20 537.00,368.40 538.60,369.46 540.20,368.40" fill="#000"/>
<circle cx="535" cy="379.10" r="7.2" fill="url(#cg)" stroke="#000" stroke-width="1.1"/>
<text x="535.10" y="382.60" font-size="10.6" font-weight="normal" font-style="normal" text-anchor="middle" fill="#000" >C</text>
<path d="M535.00 387.20 L535.00 391.60" fill="none" stroke="#ff0000" stroke-width="0.9" />
<polygon points="535.00,399.50 533.30,395.50 535.00,396.62 536.70,395.50" fill="#ff0000"/>
<rect x="513.50" y="399.50" width="44.10" height="9.90" fill="#f4b183" stroke="#1a1a1a" stroke-width="0.9" />
<text x="535.50" y="406.70" font-size="5.6" font-weight="bold" font-style="normal" text-anchor="middle" fill="#000" >MSA Output</text>
<text x="565" y="407.60" font-size="10.6" font-weight="bold" font-style="italic" style="font-family:'Liberation Sans','DejaVu Sans',sans-serif" fill="#111">h</text>
<text x="573.00" y="407.60" fill="#1a1a1a" text-anchor="start"><tspan font-size="7.8" fill-opacity="0.8" font-family="'DejaVu Math TeX Gyre','DejaVu Serif',serif" dx="0" dy="0.00">∈</tspan><tspan font-size="9.4" fill-opacity="0.8" font-family="'DejaVu Math TeX Gyre','DejaVu Serif',serif" dx="1.5" dy="0.00">ℝ</tspan><tspan font-size="5.8" font-style="italic" dx="-0.6" dy="-4.60">1×D</tspan></text>
</g>
</svg></body></html>
